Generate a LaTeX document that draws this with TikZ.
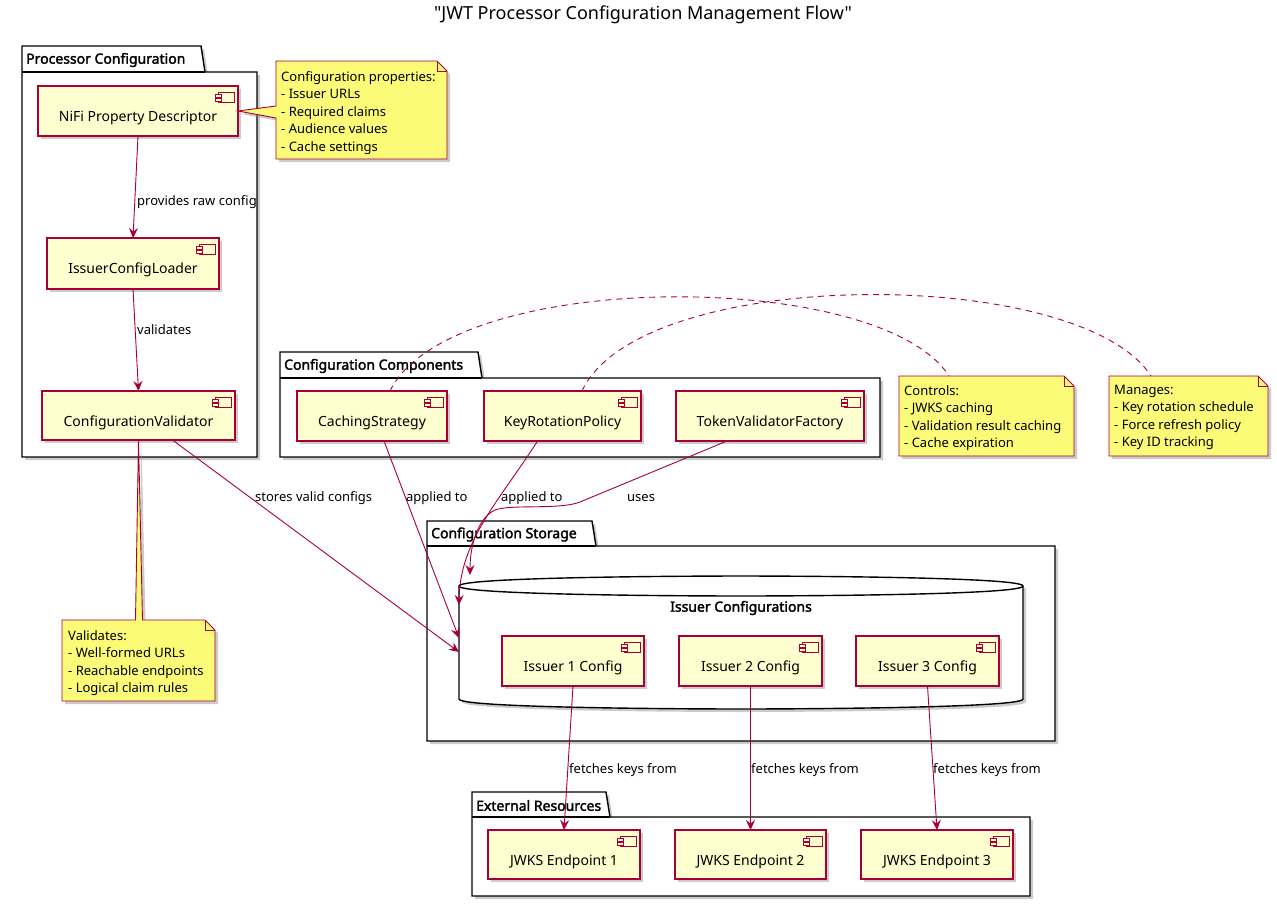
\documentclass[tikz,border=0pt]{standalone}
\usepackage{fontspec}
\setmainfont{Noto Sans}[AutoFakeBold=2.2]
\newfontfamily\titlefont{Noto Sans}[Ligatures=TeXOff]
\usetikzlibrary{arrows.meta,shadows,calc}
\definecolor{crim}{HTML}{A80036}
\definecolor{compfill}{HTML}{FEFECE}
\definecolor{notefill}{HTML}{FBFB77}
\tikzset{
  shad/.style={drop shadow={shadow xshift=3pt,shadow yshift=-3pt,fill=black!45,opacity=.45}},
  compbox/.style={draw=crim, fill=compfill, line width=1.2pt, inner sep=0pt, outer sep=0pt, shad},
  icon/.style={draw=crim, fill=compfill, line width=0.9pt},
  comptext/.style={font=\fontsize{14}{16}\selectfont, inner sep=0pt},
  noteshape/.style={draw=crim, fill=notefill, line width=0.9pt, line join=miter, shad},
  notefold/.style={draw=crim, line width=0.9pt},
  notetext/.style={font=\fontsize{13}{17.5}\selectfont, align=left, inner sep=0pt, anchor=north west},
  lbl/.style={font=\fontsize{13}{15}\selectfont, anchor=west, inner sep=0pt},
  pkgshape/.style={draw=black, fill=white, line width=1.4pt, line join=miter, shad},
  pkgtitle/.style={font=\fontsize{14}{16}\selectfont\bfseries, anchor=west, inner sep=0pt},
  hidden/.style={inner sep=0pt, outer sep=0pt},
  arr/.style={draw=crim, line width=0.9pt, -{Stealth[length=10pt,width=9pt,inset=3.5pt]}},
  dashline/.style={draw=crim, line width=0.9pt, dash pattern=on 6pt off 5pt},
}
\newcommand\comp[6]{%
  \node[compbox, minimum width={(#4-#2)*1pt}, minimum height={(#5-#3)*1pt}] (#1) at ({(#2+#4)/2},{(#3+#5)/2}) {};
  \draw[icon] ([xshift=-20pt,yshift=-6pt]#1.north east) rectangle ([xshift=-4pt,yshift=-16pt]#1.north east);
  \draw[icon] ([xshift=-23pt,yshift=-8pt]#1.north east) rectangle ([xshift=-17pt,yshift=-11pt]#1.north east);
  \draw[icon] ([xshift=-23pt,yshift=-12pt]#1.north east) rectangle ([xshift=-17pt,yshift=-15pt]#1.north east);
  \node[comptext] (#1-t) at ({(#2+#4)/2},{#3+32}) {#6};
}
% name, x1, tabtop, tabR, bodytop, x2, bottom, title
\newcommand\pkg[8]{%
  \path[pkgshape] (#2,#3) -- (#4,#3) -- ({#4+4},#5) -- (#7,#5) -- (#7,#8) -- (#2,#8) -- cycle;
  \draw[line width=1.4pt] (#2,#5) -- ({#4+4},#5);
  \node[pkgtitle] (#1) at ({#2+4},{(#3+#5)/2+1}) {\pkgname};
}
\begin{document}
\begin{tikzpicture}[x=1pt,y=-1pt]
\useasboundingbox (0,0) rectangle (1277,906);
\node[font=\titlefont\fontsize{18}{20}\selectfont, inner sep=0pt] (title) at (643,15) {"JWT Processor Configuration Management Flow"};

% packages
\def\pkgname{Processor Configuration}
\pkg{pkgproc}{22}{46}{201}{72}{0}{257}{457}
\def\pkgname{Configuration Components}
\pkg{pkgcomp}{280}{352}{478}{378}{0}{880}{457}
\def\pkgname{Configuration Storage}
\pkg{pkgstore}{427}{521}{592}{546}{0}{1055}{741}
\def\pkgname{External Resources}
\pkg{pkgext}{472}{792}{606}{817}{0}{1030}{896}

% database
\node[hidden, minimum width=564pt, minimum height=133pt] (db) at (741,642.5) {};
\path[draw=black, fill=white, line width=1.4pt, shad]
  (459,586) .. controls (459,576) and (741,576) .. (741,576)
  .. controls (741,576) and (1023,576) .. (1023,586) -- (1023,699)
  .. controls (1023,709) and (741,709) .. (741,709)
  .. controls (741,709) and (459,709) .. (459,699) -- cycle;
\draw[line width=1.4pt] (459,586) .. controls (459,596) and (741,596) .. (741,596)
  .. controls (741,596) and (1023,596) .. (1023,586);
\node[pkgtitle, anchor=center] (dbtitle) at (741,608) {Issuer Configurations};

% components
\comp{nifi}{38}{86}{238}{136}{NiFi Property Descriptor}
\comp{loader}{47}{238}{219}{289}{IssuerConfigLoader}
\comp{validator}{42}{391}{235}{440}{ConfigurationValidator}
\comp{caching}{297}{391}{447}{441}{CachingStrategy}
\comp{keyrot}{484}{391}{641}{441}{KeyRotationPolicy}
\comp{tokenfac}{676}{391}{864}{441}{TokenValidatorFactory}
\comp{issuer1}{502}{636}{644}{686}{Issuer 1 Config}
\comp{issuer2}{679}{636}{822}{686}{Issuer 2 Config}
\comp{issuer3}{856}{636}{999}{686}{Issuer 3 Config}
\comp{jwks1}{488}{830}{640}{879}{JWKS Endpoint 1}
\comp{jwks2}{675}{830}{826}{879}{JWKS Endpoint 2}
\comp{jwks3}{861}{830}{1013}{879}{JWKS Endpoint 3}

% notes
\node[hidden, minimum width=171pt, minimum height=98pt] (cfgnote) at (361.5,110) {};
\path[noteshape] (276,61) -- (437,61) -- (447,71) -- (447,159) -- (276,159) -- (276,118) -- (nifi.east) -- (276,106) -- cycle;
\draw[notefold] (437,61) -- (437,71) -- (447,71);
\node[notetext] (cfgnote-t) at (281,71) {Configuration properties:\\- Issuer URLs\\- Required claims\\- Audience values\\- Cache settings};

\node[hidden, minimum width=153pt, minimum height=81pt] (valnote) at (138.5,660.5) {};
\path[noteshape] (62,620) -- (135.5,620) -- (validator.south) -- (142.5,620) -- (205,620) -- (215,630) -- (215,701) -- (62,701) -- cycle;
\draw[notefold] (205,620) -- (205,630) -- (215,630);
\node[notetext] (valnote-t) at (68,630) {Validates:\\- Well-formed URLs\\- Reachable endpoints\\- Logical claim rules};

\node[hidden, minimum width=175pt, minimum height=80pt] (ctrlnote) at (986.5,416) {};
\path[noteshape] (899,376) -- (1064,376) -- (1074,386) -- (1074,456) -- (899,456) -- cycle;
\draw[notefold] (1064,376) -- (1064,386) -- (1074,386);
\node[notetext] (ctrlnote-t) at (904,385) {Controls:\\- JWKS caching\\- Validation result caching\\- Cache expiration};

\node[hidden, minimum width=159pt, minimum height=80pt] (mgnote) at (1188.5,416) {};
\path[noteshape] (1109,376) -- (1258,376) -- (1268,386) -- (1268,456) -- (1109,456) -- cycle;
\draw[notefold] (1258,376) -- (1258,386) -- (1268,386);
\node[notetext] (mgnote-t) at (1114,385) {Manages:\\- Key rotation schedule\\- Force refresh policy\\- Key ID tracking};

% dashed note connectors
\draw[dashline] ([xshift=18pt]caching.north) .. controls (450,268) and (880,268) .. ([xshift=-37.5pt]ctrlnote.north);
\draw[dashline] ([xshift=19.5pt]keyrot.north) .. controls (640,265) and (1080,265) .. ([xshift=-37.5pt]mgnote.north);

% arrows
\draw[arr] (nifi.south) -- (loader.north);
\draw[arr] (loader.south) -- (validator.north);
\draw[arr] ([xshift=34pt]validator.south) -- ([yshift=-76pt]db.north west);
\draw[arr] ([xshift=12pt]caching.south) -- ([yshift=-62pt]db.north west);
\draw[arr] ([xshift=-25pt]keyrot.south) .. controls (500,500) and (460,540) .. ([yshift=-29pt]db.north west);
\draw[arr] ([xshift=-43pt]tokenfac.south) -- (580,502) .. controls (560,510) and (510,504) .. (495,510) .. controls (478,518) and (470,545) .. ([xshift=11pt,yshift=1pt]db.north west);
\draw[arr] (issuer1.south) -- (jwks1.north);
\draw[arr] (issuer2.south) -- (jwks2.north);
\draw[arr] (issuer3.south) -- (jwks3.north);

% labels
\node[lbl] (l1) at (137,202) {provides raw config};
\node[lbl] (l2) at (137,330) {validates};
\node[lbl] (l3) at (255,498) {stores valid configs};
\node[lbl] (l4) at (406,498) {applied to};
\node[lbl] (l5) at (501,498) {applied to};
\node[lbl] (l6) at (627,498) {uses};
\node[lbl] (l7) at (569,770) {fetches keys from};
\node[lbl] (l8) at (751,770) {fetches keys from};
\node[lbl] (l9) at (933,770) {fetches keys from};
\end{tikzpicture}
\end{document}
